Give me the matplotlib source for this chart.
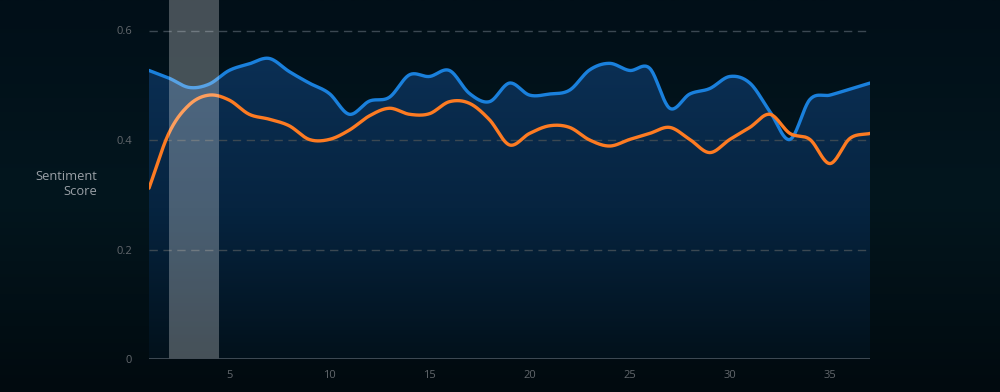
import numpy as np
import matplotlib
matplotlib.use("Agg")
import matplotlib.pyplot as plt
from matplotlib.colors import LinearSegmentedColormap

plt.rcParams['font.family'] = ['Open Sans', 'DejaVu Sans']

# period index 1..37
periods = list(range(1, 38))
blue_scores = [0.527, 0.513, 0.496, 0.502, 0.527, 0.539, 0.549, 0.525, 0.504, 0.485,
               0.447, 0.471, 0.478, 0.519, 0.516, 0.527, 0.485, 0.470, 0.504, 0.482,
               0.484, 0.491, 0.528, 0.540, 0.527, 0.531, 0.458, 0.484, 0.494, 0.516,
               0.504, 0.452, 0.401, 0.474, 0.482, 0.493, 0.504]
orange_scores = [0.312, 0.413, 0.464, 0.482, 0.473, 0.447, 0.438, 0.426, 0.401, 0.401,
                 0.418, 0.444, 0.458, 0.447, 0.448, 0.470, 0.467, 0.437, 0.391, 0.412,
                 0.426, 0.423, 0.400, 0.389, 0.401, 0.412, 0.423, 0.401, 0.377, 0.401,
                 0.423, 0.447, 0.412, 0.401, 0.357, 0.403, 0.412]
highlight = (2, 4.5)
y_ticks = [0, 0.2, 0.4, 0.6]
y_tick_labels = ['0', '0.2', '0.4', '0.6']
x_ticks = [5, 10, 15, 20, 25, 30, 35]


def smooth_curve(x, y, n=24):
    # catmull-rom smoothing between the data points, drawing only
    x = np.asarray(x, float)
    y = np.asarray(y, float)
    h = np.diff(x)
    m = np.zeros_like(y)
    m[1:-1] = (y[2:] - y[:-2]) / (x[2:] - x[:-2])
    m[0] = (y[1] - y[0]) / h[0]
    m[-1] = (y[-1] - y[-2]) / h[-1]
    xs, ys = [], []
    for i in range(len(x) - 1):
        t = np.linspace(0, 1, n, endpoint=False)
        h00 = 2 * t**3 - 3 * t**2 + 1
        h10 = t**3 - 2 * t**2 + t
        h01 = -2 * t**3 + 3 * t**2
        h11 = t**3 - t**2
        xs.append(x[i] + t * h[i])
        ys.append(h00 * y[i] + h10 * h[i] * m[i] + h01 * y[i + 1] + h11 * h[i] * m[i + 1])
    xs.append([x[-1]])
    ys.append([y[-1]])
    return np.concatenate(xs), np.concatenate(ys)


fig = plt.figure(figsize=(10, 3.92), dpi=100)

# background gradient
bg = fig.add_axes([0, 0, 1, 1], zorder=-5)
bg_cmap = LinearSegmentedColormap.from_list('bg', ['#010a0f', '#03161e', '#010f18'])
bg.imshow(np.linspace(0, 1, 256).reshape(-1, 1), aspect='auto', cmap=bg_cmap,
          origin='lower', extent=[0, 1, 0, 1])
bg.axis('off')

ytop = 359 / 547.5
ax = fig.add_axes([0.149, 33 / 392, 0.721, 359 / 392])
ax.set_facecolor('none')

bx, by = smooth_curve(periods, blue_scores)
ox, oy = smooth_curve(periods, orange_scores)

# gradient area under the blue line
fill_cmap = LinearSegmentedColormap.from_list('fill', ['#02111b', '#062440', '#0b2f54'])
poly = ax.fill_between(bx, by, 0, color='none', lw=0)
img = ax.imshow(np.linspace(0, 1, 256).reshape(-1, 1), aspect='auto', cmap=fill_cmap,
                origin='lower', extent=[1, 37, 0, 0.55], zorder=1)
img.set_clip_path(poly.get_paths()[0], transform=ax.transData)
ax.set_xlim(1, 37)
ax.set_ylim(0, ytop)

for yv in y_ticks[1:]:
    ax.axhline(yv, color='#3b4852', lw=1, dashes=(6, 4), zorder=2)

ax.plot(bx, by, color='#1a80dc', lw=2.4, zorder=3, solid_capstyle='round')
ax.plot(ox, oy, color='#fd7b22', lw=2.4, zorder=3, solid_capstyle='round')

ax.axvspan(*highlight, color='white', alpha=0.27, lw=0, zorder=4)
ax.axhline(0, color='#454f59', lw=2, zorder=5)

for side in ['top', 'right', 'left', 'bottom']:
    ax.spines[side].set_visible(False)
ax.set_yticks(y_ticks)
ax.set_yticklabels(y_tick_labels)
ax.set_xticks(x_ticks)
ax.tick_params(length=0, colors='#62676c', labelsize=8)
ax.tick_params(axis='y', pad=12)
ax.tick_params(axis='x', pad=8)

fig.text(0.097, 0.531, 'Sentiment\nScore', ha='right', va='center', color='#9aa0a6',
         fontsize=9.3, linespacing=1.25)

fig.savefig('out.png', dpi=100, facecolor=fig.get_facecolor())
